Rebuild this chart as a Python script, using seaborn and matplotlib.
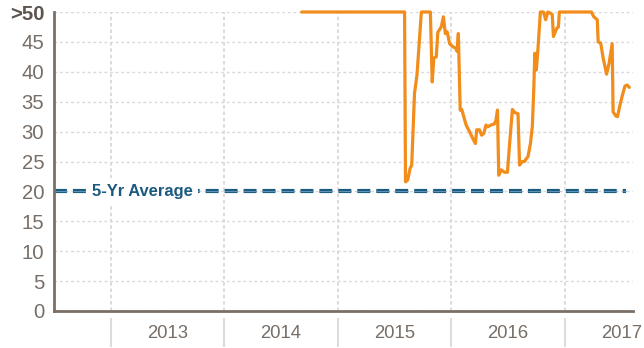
import matplotlib
matplotlib.use("Agg")
import matplotlib.pyplot as plt
import matplotlib.transforms as mtransforms
import pandas as pd
import seaborn as sns

# Weekly readings, capped at 50 (shown as ">50")
dates = [
    "2014-09-07", "2015-08-04", "2015-08-07", "2015-08-14", "2015-08-22", "2015-08-27",
    "2015-09-05", "2015-09-13", "2015-09-27", "2015-10-26", "2015-11-01", "2015-11-06",
    "2015-11-14", "2015-11-19", "2015-11-30", "2015-12-07", "2015-12-13", "2015-12-19",
    "2015-12-27", "2016-01-06", "2016-01-17", "2016-01-20", "2016-01-24", "2016-01-30",
    "2016-02-04", "2016-02-18", "2016-02-29", "2016-03-10", "2016-03-19", "2016-03-23",
    "2016-04-01", "2016-04-08", "2016-04-15", "2016-04-22", "2016-04-27", "2016-05-08",
    "2016-05-19", "2016-05-24", "2016-05-29", "2016-06-02", "2016-06-10", "2016-06-21",
    "2016-06-30", "2016-07-07", "2016-07-16", "2016-07-23", "2016-08-03", "2016-08-08",
    "2016-08-17", "2016-08-24", "2016-08-30", "2016-09-04", "2016-09-12", "2016-09-18",
    "2016-09-23", "2016-09-26", "2016-10-01", "2016-10-06", "2016-10-14", "2016-10-24",
    "2016-10-31", "2016-11-07", "2016-11-15", "2016-11-21", "2016-11-25", "2016-12-06",
    "2016-12-11", "2016-12-14", "2017-03-27", "2017-04-04", "2017-04-15", "2017-04-18",
    "2017-04-26", "2017-05-04", "2017-05-15", "2017-05-23", "2017-06-02", "2017-06-05",
    "2017-06-14", "2017-06-19", "2017-06-27", "2017-07-05", "2017-07-13", "2017-07-20",
    "2017-07-27",
]
values = [
    50, 50, 21.6, 21.9, 23.9, 24.4,
    36.4, 39.5, 50, 50, 38.3, 42.3,
    42.5, 46.6, 47.5, 49.2, 46.4, 46.7,
    44.7, 44.2, 43.9, 43.4, 46.4, 33.6,
    33.7, 31.1, 30.0, 28.9, 28.0, 30.3,
    30.3, 29.4, 29.7, 31.1, 30.8, 31.1,
    31.3, 31.9, 33.6, 22.7, 23.6, 23.2,
    23.2, 28.0, 33.7, 33.2, 33.0, 24.4,
    25.0, 25.0, 25.5, 25.8, 28.0, 30.8,
    37.5, 43.1, 40.3, 43.7, 50, 50,
    48.7, 50, 49.8, 49.6, 45.9, 47.3,
    47.5, 50, 50, 49.2, 48.7, 45.0,
    44.8, 42.3, 39.6, 41.4, 44.7, 33.3,
    32.6, 32.5, 34.4, 36.1, 37.6, 37.8,
    37.4,
]
avg_5yr = 20
avg_label = "5-Yr Average"
years = [2013, 2014, 2015, 2016, 2017]
y_ticks = [0, 5, 10, 15, 20, 25, 30, 35, 40, 45, 50]
y_labels = ["0", "5", "10", "15", "20", "25", "30", "35", "40", "45", ">50"]

sns.set_theme(style="white")
plt.rcParams["font.family"] = ["Liberation Sans", "DejaVu Sans"]

spine_color = "#7b6f66"
text_color = "#776e67"
grid_color = "#d9d9d9"
blue = "#1b5a80"
orange = "#f28c1a"

fig = plt.figure(figsize=(6.44, 3.48), dpi=100)
ax = fig.add_axes([54 / 644, 37 / 348, 579 / 644, 299 / 348])

df = pd.DataFrame({"date": pd.to_datetime(dates), "value": values})
sns.lineplot(data=df, x="date", y="value", ax=ax, color=orange, lw=2.3,
             estimator=None, clip_on=False, zorder=4)

x_left = pd.Timestamp("2012-07-02")
x_right = pd.Timestamp("2017-08-08")
ax.set_xlim(x_left, x_right)
ax.set_ylim(0, 50)

# Year boundaries as major ticks (grid), year names centred on minor ticks
year_starts = [pd.Timestamp(f"{y}-01-01") for y in years]
year_mids = [pd.Timestamp(f"{y}-07-02") for y in years]
ax.set_xticks(year_starts)
ax.set_xticklabels([""] * len(years))
ax.set_xticks(year_mids, minor=True)
ax.set_xticklabels([str(y) for y in years], minor=True)
ax.tick_params(axis="x", which="both", length=0)
ax.tick_params(axis="x", which="minor", pad=10, labelsize=13.3, labelcolor=text_color)

ax.set_yticks(y_ticks)
ax.set_yticklabels(y_labels)
ax.tick_params(axis="y", length=0, pad=7, labelsize=14.6, labelcolor=text_color)
top_lbl = ax.get_yticklabels()[-1]
top_lbl.set_fontweight("bold")
top_lbl.set_color("#5e554f")

ax.set_xlabel("")
ax.set_ylabel("")

ax.grid(axis="y", color=grid_color, linestyle=(0, (2, 2)), lw=1)
ax.grid(axis="x", which="major", color=grid_color, linestyle=(0, (2, 1.5)), lw=1.3)
ax.set_axisbelow(True)

# Separators between year labels below the axis
trans = mtransforms.blended_transform_factory(ax.transData, ax.transAxes)
ax.vlines(year_starts, -0.022, -0.12, transform=trans, colors="#dcdcdc",
          lw=1.5, clip_on=False)

for side in ["top", "right"]:
    ax.spines[side].set_visible(False)
for side in ["left", "bottom"]:
    ax.spines[side].set_color(spine_color)
    ax.spines[side].set_linewidth(2.0)
    ax.spines[side].set_zorder(6)

# Five-year average reference line: dark dashes with a lighter core
xmax_frac = (626 - 54) / 579
dash_on, dash_off = 9.3, 4.35  # points
outer_lw, inner_lw = 3.0, 0.8
ax.axhline(avg_5yr, xmin=0, xmax=xmax_frac, color=blue, lw=outer_lw,
           linestyle=(0, (dash_on / outer_lw, dash_off / outer_lw)), zorder=3)
ax.axhline(avg_5yr, xmin=0, xmax=xmax_frac, color="#5f93b5", lw=inner_lw,
           linestyle=(0, (dash_on / inner_lw, dash_off / inner_lw)), zorder=3)
ax.text(pd.Timestamp("2013-04-12"), avg_5yr, avg_label, ha="center", va="center",
        fontsize=11.9, fontweight="bold", color=blue, zorder=5,
        bbox=dict(facecolor="white", edgecolor="none", pad=4.2))

fig.savefig("out.png", dpi=100)
